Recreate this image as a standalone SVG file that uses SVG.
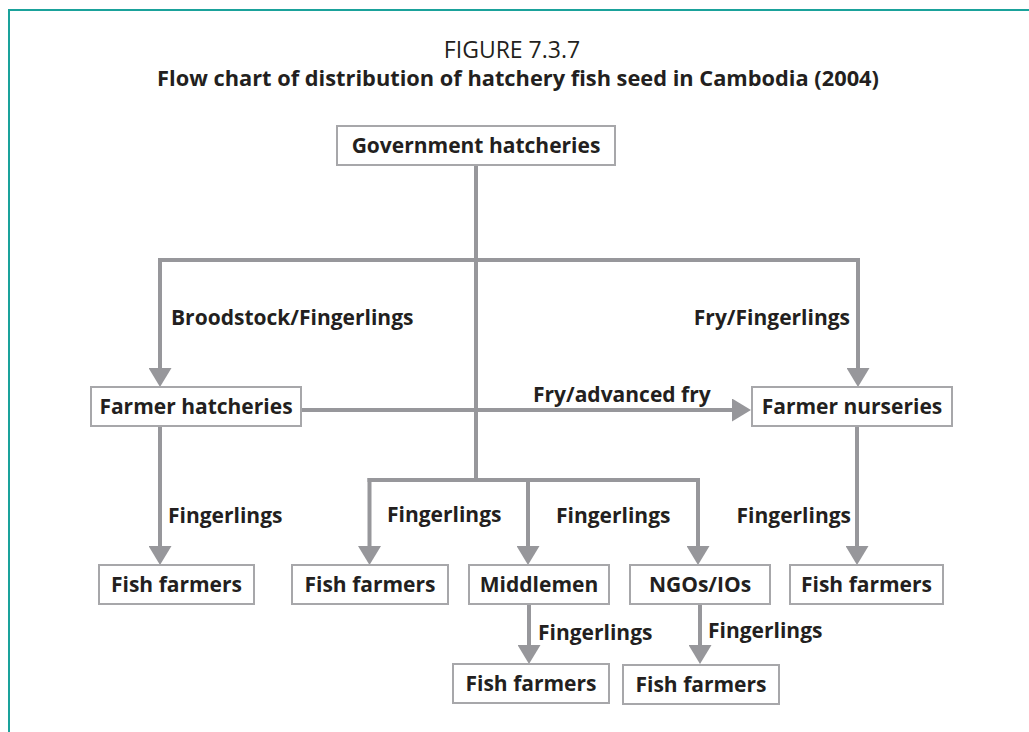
<svg xmlns="http://www.w3.org/2000/svg" width="1029" height="732" viewBox="0 0 1029 732">
<defs>
<style>
.box{fill:#fff;stroke:#a7a7aa;stroke-width:2}
.bt{font-family:"Open Sans","Liberation Sans",sans-serif;font-weight:700;font-size:21px;fill:#231f20;text-anchor:middle}
.lb{font-family:"Open Sans","Liberation Sans",sans-serif;font-weight:700;font-size:21px;fill:#231f20}
.ln{fill:none;stroke:#97979b;stroke-width:4}
.ar{fill:none;stroke:#97979b;stroke-width:4;marker-end:url(#ah)}
</style>
<marker id="ah" markerUnits="userSpaceOnUse" markerWidth="19" markerHeight="23" refX="0" refY="11.5" orient="auto">
<path d="M0,0 L19,11.5 L0,23 Z" fill="#97979b"/>
</marker>
</defs>
<rect width="1029" height="732" fill="#fff"/>
<g id="frame">
<path d="M9,732 V10 H1029" fill="none" stroke="#1aa29b" stroke-width="2"/>
</g>
<g id="title">
<text x="512" y="58" font-family="Open Sans, Liberation Sans, sans-serif" font-size="23" fill="#231f20" text-anchor="middle">FIGURE 7.3.7</text>
<text x="518" y="86" font-family="Open Sans, Liberation Sans, sans-serif" font-weight="700" font-size="21.8" fill="#231f20" text-anchor="middle">Flow chart of distribution of hatchery fish seed in Cambodia (2004)</text>
</g>
<g id="connectors">
<path class="ln" d="M476,165 V480"/>
<path class="ln" d="M158,260 H860"/>
<path class="ar" d="M160,258 V368"/>
<path class="ar" d="M858,258 V368"/>
<path class="ar" d="M301,410 H732"/>
<path class="ar" d="M160,426 V546"/>
<path class="ar" d="M857,426 V546"/>
<path class="ln" d="M367.5,480 H700"/>
<path class="ar" d="M369.5,478 V546"/>
<path class="ar" d="M528,480 V546"/>
<path class="ar" d="M698,478 V546"/>
<path class="ar" d="M529,604 V645"/>
<path class="ar" d="M700,604 V645"/>
</g>
<g id="labels">
<text class="lb" x="171" y="325">Broodstock/Fingerlings</text>
<text class="lb" x="850" y="325" text-anchor="end">Fry/Fingerlings</text>
<text class="lb" x="533" y="402">Fry/advanced fry</text>
<text class="lb" x="168" y="523">Fingerlings</text>
<text class="lb" x="387" y="522">Fingerlings</text>
<text class="lb" x="556" y="523">Fingerlings</text>
<text class="lb" x="851" y="523" text-anchor="end">Fingerlings</text>
<text class="lb" x="538" y="640">Fingerlings</text>
<text class="lb" x="708" y="638">Fingerlings</text>
</g>
<g id="gov"><rect class="box" x="337" y="126" width="278" height="39"/><text class="bt" x="476" y="153">Government hatcheries</text></g>
<g id="farmer-hatcheries"><rect class="box" x="91" y="387" width="210" height="39"/><text class="bt" x="196" y="414">Farmer hatcheries</text></g>
<g id="farmer-nurseries"><rect class="box" x="752" y="387" width="200" height="39"/><text class="bt" x="852" y="414">Farmer nurseries</text></g>
<g id="fish-farmers-1"><rect class="box" x="99" y="565" width="155" height="39"/><text class="bt" x="176.5" y="592">Fish farmers</text></g>
<g id="fish-farmers-2"><rect class="box" x="292" y="565" width="156" height="39"/><text class="bt" x="370" y="592">Fish farmers</text></g>
<g id="middlemen"><rect class="box" x="469" y="565" width="140" height="39"/><text class="bt" x="539" y="592">Middlemen</text></g>
<g id="ngos"><rect class="box" x="630" y="565" width="140" height="39"/><text class="bt" x="700" y="592">NGOs/IOs</text></g>
<g id="fish-farmers-3"><rect class="box" x="790" y="565" width="153" height="39"/><text class="bt" x="866.5" y="592">Fish farmers</text></g>
<g id="fish-farmers-4"><rect class="box" x="453" y="664" width="156" height="39"/><text class="bt" x="531" y="691">Fish farmers</text></g>
<g id="fish-farmers-5"><rect class="box" x="623" y="665" width="156" height="39"/><text class="bt" x="701" y="692">Fish farmers</text></g>
</svg>
